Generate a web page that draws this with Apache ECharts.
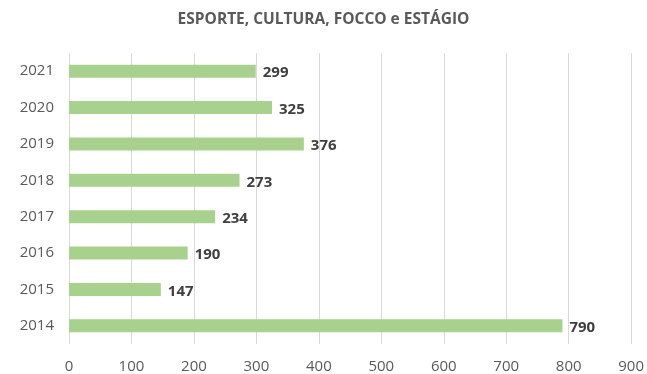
<!DOCTYPE html>
<html>
<head>
<meta charset="utf-8">
<script src="https://cdn.jsdelivr.net/npm/echarts@6/dist/echarts.min.js"></script>
<style>
  html, body { margin: 0; padding: 0; background: #ffffff; }
  #chart { width: 647px; height: 374px; }
</style>
</head>
<body>
<div id="chart"></div>
<script>
// Years on the category axis (first entry sits at the bottom)
const years = ['2014', '2015', '2016', '2017', '2018', '2019', '2020', '2021'];
// Totals per year
const totals = [790, 147, 190, 234, 273, 376, 325, 299];
// Value axis range
const axisMin = 0;
const axisMax = 900;
const axisStep = 100;

const chart = echarts.init(document.getElementById('chart'), null, { renderer: 'canvas' });

chart.setOption({
  animation: false,
  backgroundColor: '#ffffff',
  title: {
    text: 'ESPORTE, CULTURA, FOCCO e ESTÁGIO',
    left: 'center',
    top: 7,
    textStyle: {
      fontFamily: 'Open Sans',
      fontSize: 15.5,
      fontWeight: 'bold',
      color: '#595959'
    }
  },
  grid: { left: 69, right: 15, top: 53, bottom: 27, containLabel: false },
  xAxis: {
    type: 'value',
    min: axisMin,
    max: axisMax,
    interval: axisStep,
    axisLine: { show: false },
    axisTick: { show: false },
    splitLine: { show: true, lineStyle: { color: '#d9d9d9', width: 1 } },
    axisLabel: {
      margin: 15,
      fontFamily: 'Open Sans',
      fontSize: 15,
      color: '#595959'
    }
  },
  yAxis: {
    type: 'category',
    data: years,
    axisLine: { show: false },
    axisTick: { show: false },
    splitLine: { show: false },
    axisLabel: {
      margin: 15,
      fontFamily: 'Open Sans',
      fontSize: 15,
      color: '#595959'
    }
  },
  series: [{
    type: 'bar',
    data: totals,
    barWidth: 13,
    itemStyle: { color: '#a9d18e' },
    label: {
      show: true,
      position: 'right',
      distance: 7,
      fontFamily: 'Open Sans',
      fontSize: 15,
      fontWeight: 'bold',
      color: '#404040',
      offset: [0, 2]
    }
  }]
});
</script>
</body>
</html>
